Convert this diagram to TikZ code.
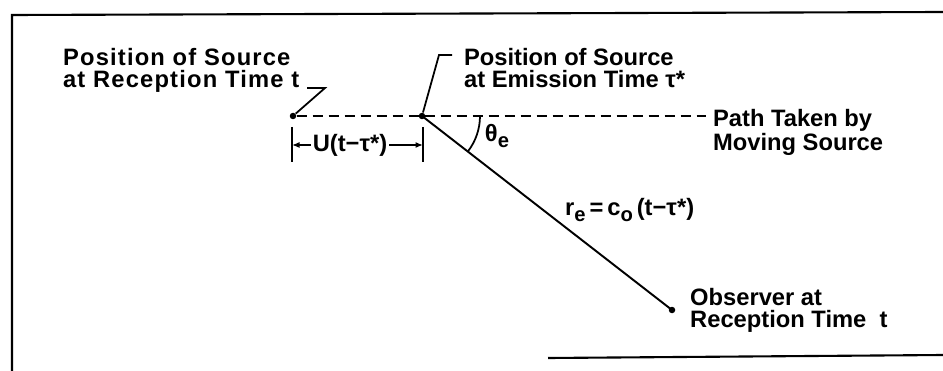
\documentclass[tikz,border=0pt]{standalone}
\usepackage{fontspec}
\setmainfont{Liberation Sans}
\usepackage{tikz}
\usetikzlibrary{arrows.meta,positioning,angles}
\newcommand{\lowsub}[1]{\raisebox{-0.55ex}{\fontsize{11.5}{11.5}\selectfont #1}}
\tikzset {
    dot/.style={circle, fill=black, minimum size=1.3mm, inner sep=0pt},
    caption/.style={font=\bfseries\fontsize{13.5}{12.5}\selectfont,
        align=left, inner sep=1pt},
    symbol/.style={font=\bfseries\fontsize{13.5}{12.5}\selectfont,
        inner sep=1pt},
    track/.style={draw, line width=1.2pt, dash pattern=on 0.2cm off 0.12cm},
    ray/.style={draw, line width=1.1pt},
    leader/.style={draw, line width=1pt},
    tick/.style={draw, line width=1pt},
    span/.style={draw, line width=0.8pt,
        -{Latex[length=1.5mm, width=1.2mm]}},
    frame/.style={draw, line width=1.2pt},
    >=Latex
}

\begin{document}
\begin{tikzpicture}[x=0.02cm, y=-0.02cm]
        \useasboundingbox (0,0) rectangle (943,371);

        \draw[frame] (12,371) -- (12,15) -- (943,12);
        \draw[frame] (548,358) -- (943,355);

        \node[dot] (rec) at (293,116) {};
        \node[dot] (emi) at (422,116) {};
        \node[dot] (observer) at (672,310) {};
        \coordinate (pathEnd) at (706,116);

        \node[caption, anchor=north west] (recLabel) at (61,46)
            {\addfontfeature{LetterSpace=5}Position of Source\\
             \addfontfeature{LetterSpace=5}at Reception Time t};
        \node[caption, anchor=north west] (emiLabel) at (462,46)
            {Position of Source\\at Emission Time τ*};
        \node[caption, anchor=north west] (pathLabel) at (711,107)
            {Path Taken by\\Moving Source};
        \node[caption, right=2.5mm of observer] (obsLabel)
            {Observer at\\Reception Time\ \ t};

        \node[symbol] (thetaLabel) at (497,136) {θ\lowsub{e}};
        \node[symbol, anchor=west] (rangeLabel) at (563,210)
            {r\lowsub{e}\,=\,c\lowsub{o}\,(t−τ*)};
        \node[symbol] (uLabel) at (350,145) {U(t−τ*)};

        \coordinate (recTail) at (307,88);
        \coordinate (recKnee) at (325,88);
        \coordinate (emiTail) at (452,55);
        \coordinate (emiKnee) at (439,55);
        \coordinate (tickL) at (292,145);
        \coordinate (tickR) at (423,145);

        \draw[track] (rec) -- (pathEnd);
        \draw[ray] (emi.center) -- (observer.center);
        \pic[draw, line width=1pt, angle radius=1.16cm]
            {angle=observer--emi--pathEnd};

        \draw[leader] (recTail) -- (recKnee) -- (rec);
        \draw[leader] (emiTail) -- (emiKnee) -- (emi);

        \draw[tick] (tickL) +(0,-18) -- +(0,17);
        \draw[tick] (tickR) +(0,-18) -- +(0,17);
        \draw[span] (uLabel.west) -- (tickL);
        \draw[span] (uLabel.east) -- (tickR);

\end{tikzpicture}
\end{document}
